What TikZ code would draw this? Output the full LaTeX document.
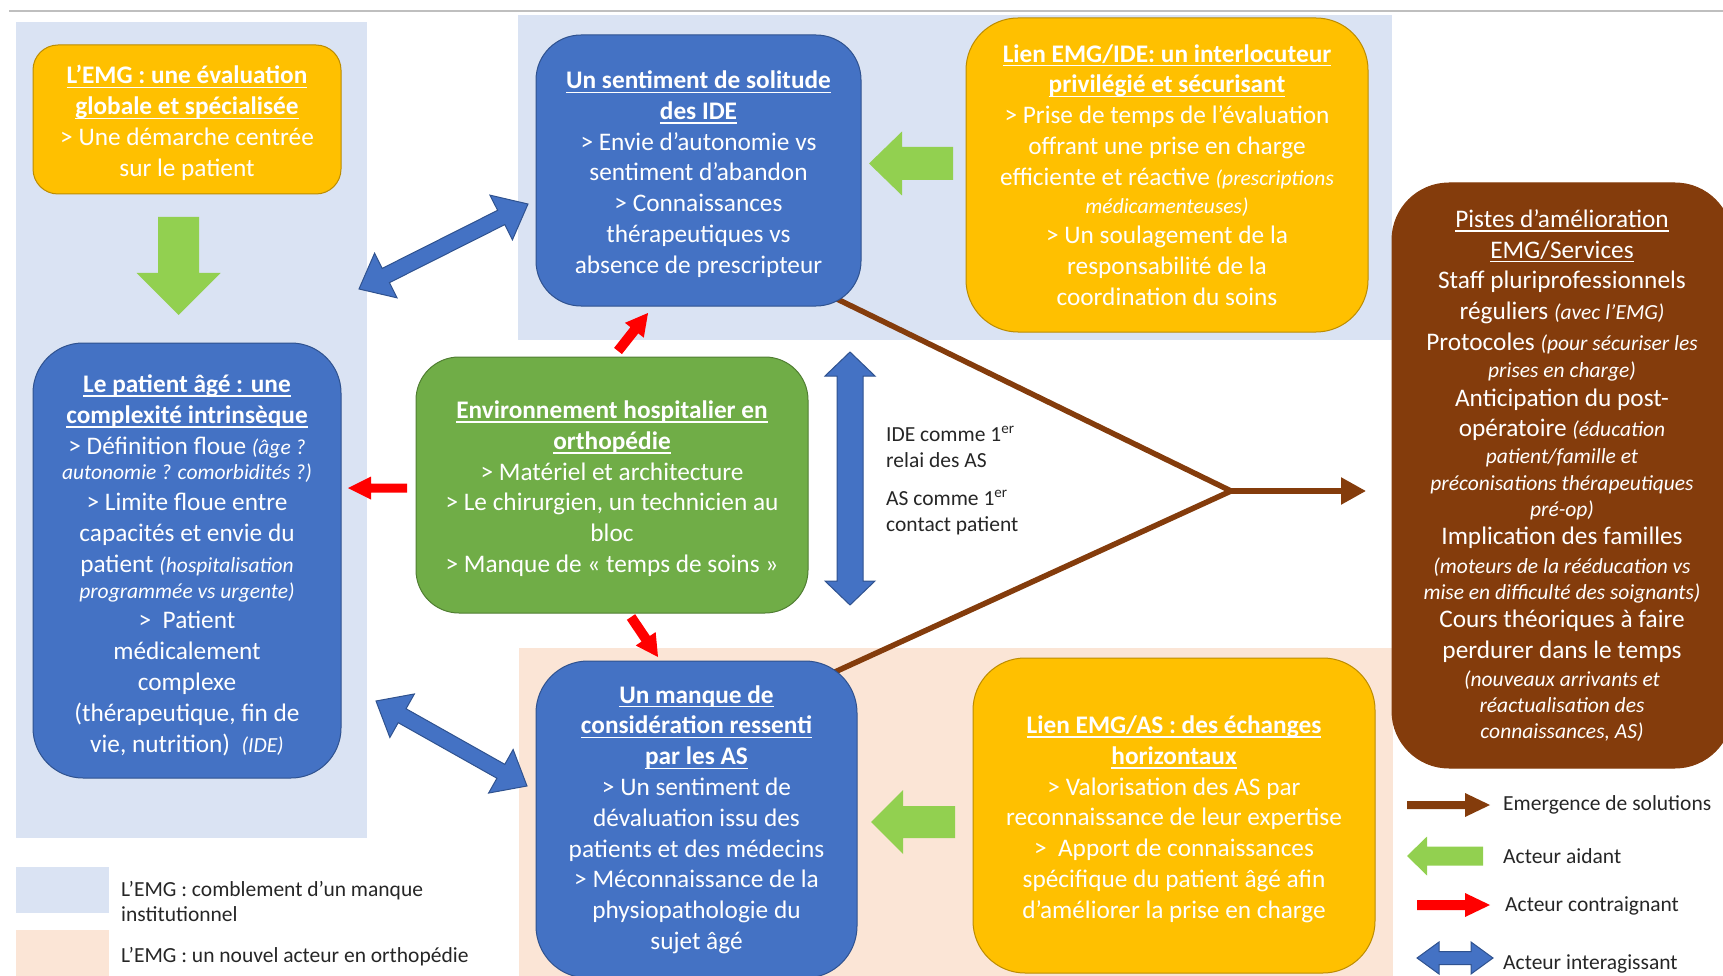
\documentclass[tikz,border=0pt]{standalone}
\usepackage{fontspec}
\setmainfont{Carlito}
\usetikzlibrary{calc,arrows.meta}
\pgfdeclarelayer{background}
\pgfsetlayers{background,main}
\definecolor{cblue}{HTML}{4472C4}
\definecolor{cblueb}{HTML}{2F528F}
\definecolor{cyel}{HTML}{FFC000}
\definecolor{cyelb}{HTML}{BC8C00}
\definecolor{cgreen}{HTML}{70AD47}
\definecolor{cgreenb}{HTML}{507E32}
\definecolor{cbrown}{HTML}{843C0C}
\definecolor{clgreen}{HTML}{92D050}
\definecolor{cpanelb}{HTML}{DAE3F3}
\definecolor{cpanelp}{HTML}{FBE5D6}
\definecolor{cred}{HTML}{FF0000}
\definecolor{ctext}{HTML}{262626}
\newcommand\szA{\fontsize{25.3pt}{30.8pt}\selectfont}
\newcommand\szB{\fontsize{21.5pt}{26pt}\selectfont}
\newcommand\itp[1]{{\szB\itshape #1}}
\newcommand\myul[1]{\leavevmode\setbox0\hbox{#1}\rlap{\rule[-4.4pt]{\wd0}{1.4pt}}\box0}
\newcommand\hd[1]{{\bfseries\myul{#1}}}
\newcommand\tstrut{\rule{0pt}{25pt}}
% single block arrow: style, tail, tip, shaft half width, head half width, head length
\newcommand\fatarrow[6]{%
  \coordinate (fah) at ($(#3)!#6!(#2)$);
  \path[#1] ($(#2)!#4!90:(#3)$) -- ($(fah)!#4!90:(#3)$) -- ($(fah)!#5!90:(#3)$) -- (#3)
    -- ($(fah)!#5!-90:(#3)$) -- ($(fah)!#4!-90:(#3)$) -- ($(#2)!#4!-90:(#3)$) -- cycle;
}
% double block arrow
\newcommand\fatdarrow[6]{%
  \coordinate (dha) at ($(#2)!#6!(#3)$);
  \coordinate (dhb) at ($(#3)!#6!(#2)$);
  \path[#1] (#2) -- ($(dha)!#5!90:(#3)$) -- ($(dha)!#4!90:(#3)$) -- ($(dhb)!#4!90:(#3)$)
    -- ($(dhb)!#5!90:(#3)$) -- (#3) -- ($(dhb)!#5!-90:(#3)$) -- ($(dhb)!#4!-90:(#3)$)
    -- ($(dha)!#4!-90:(#3)$) -- ($(dha)!#5!-90:(#3)$) -- cycle;
}
\tikzset{
  boxbase/.style={align=center, inner sep=0pt, text=white, font=\szA, line width=1pt},
  bluebox/.style={boxbase, fill=cblue, draw=cblueb},
  yelbox/.style={boxbase, fill=cyel, draw=cyelb},
  greenbox/.style={boxbase, fill=cgreen, draw=cgreenb},
  brownbox/.style={boxbase, fill=cbrown, draw=cbrown},
  panelb/.style={fill=cpanelb},
  panelp/.style={fill=cpanelp},
  garrow/.style={fill=clgreen},
  rarrow/.style={fill=cred},
  brarrow/.style={fill=cbrown},
  barrow/.style={fill=cblue, draw=cblueb, line width=1pt, line join=miter},
  brownline/.style={draw=cbrown, line width=5.5pt},
  legtext/.style={font=\szB, text=ctext, inner sep=0pt, align=left, anchor=west},
}
\begin{document}
\begin{tikzpicture}[x=1pt,y=-1pt]
\useasboundingbox (0,0) rectangle (1723,976);

% boxes
\node[yelbox, minimum width=308pt, minimum height=149pt, rounded corners=25pt] (emg) at (187,119.5)
  {\tstrut\hd{L’EMG : une évaluation}\\ \hd{globale et spécialisée}\\ > Une démarche centrée\\ sur le patient};

\node[bluebox, minimum width=308pt, minimum height=435pt, rounded corners=50pt] (pat) at (187,560.5)
  {\rule{0pt}{27pt}\hd{Le patient âgé : une}\\
   \hd{complexité intrinsèque}\\
   > Définition floue \itp{(âge ?}\\[-5pt]
   \itp{autonomie ? comorbidités ?)}\\
   > Limite floue entre\\
   capacités et envie du\\
   patient \itp{(hospitalisation}\\[-5pt]
   \itp{programmée vs urgente)}\\
   >~ Patient\\
   médicalement\\
   complexe\\
   (thérapeutique, fin de\\
   vie, nutrition)~ \itp{(IDE)}};

\node[greenbox, minimum width=392pt, minimum height=256pt, rounded corners=43pt] (env) at (612,485)
  {\tstrut\hd{Environnement hospitalier en}\\ \hd{orthopédie}\\ > Matériel et architecture\\
   > Le chirurgien, un technicien au\\ bloc\\ > Manque de « temps de soins »};

\node[bluebox, minimum width=325pt, minimum height=271pt, rounded corners=45pt] (sol) at (698.5,170.5)
  {\tstrut\hd{Un sentiment de solitude}\\ \hd{des IDE}\\ > Envie d’autonomie vs\\ sentiment d’abandon\\
   > Connaissances\\ thérapeutiques vs\\ absence de prescripteur};

\node[yelbox, minimum width=402pt, minimum height=314pt, rounded corners=52pt] (ide) at (1167,175)
  {\hd{Lien EMG/IDE: un interlocuteur}\\ \hd{privilégié et sécurisant}\\
   > Prise de temps de l’évaluation\\ offrant une prise en charge\\
   efficiente et réactive \itp{(prescriptions}\\[-3pt] \itp{médicamenteuses)}\\
   > Un soulagement de la\\ responsabilité de la\\ coordination du soins};

\node[bluebox, minimum width=321pt, minimum height=317pt, rounded corners=52pt] (man) at (696.5,819.5)
  {\hd{Un manque de}\\ \hd{considération ressenti}\\ \hd{par les AS}\\ > Un sentiment de\\
   dévaluation issu des\\ patients et des médecins\\ > Méconnaissance de la\\
   physiopathologie du\\ sujet âgé};

\node[yelbox, minimum width=402pt, minimum height=315pt, rounded corners=52pt] (as) at (1174,815.5)
  {\tstrut\hd{Lien EMG/AS : des échanges}\\ \hd{horizontaux}\\ > Valorisation des AS par\\
   reconnaissance de leur expertise\\ >~ Apport de connaissances\\
   spécifique du patient âgé afin\\ d’améliorer la prise en charge};

\node[brownbox, minimum width=340pt, minimum height=585pt, rounded corners=57pt] (pist) at (1562,475.5)
  {\myul{Pistes d’amélioration}\\
   \myul{EMG/Services}\\
   Staff pluriprofessionnels\\
   réguliers \itp{(avec l’EMG)}\\
   Protocoles \itp{(pour sécuriser les}\\[-4pt]
   \itp{prises en charge)}\\[-2pt]
   Anticipation du post-\\
   opératoire \itp{(éducation}\\[-4pt]
   \itp{patient/famille et}\\[-4pt]
   \itp{préconisations thérapeutiques}\\[-5pt]
   \itp{pré-op)}\\[-3pt]
   Implication des familles\\[-1pt]
   \itp{(moteurs de la rééducation vs}\\[-5pt]
   \itp{mise en difficulté des soignants)}\\[-3pt]
   Cours théoriques à faire\\
   perdurer dans le temps\\[-3pt]
   \itp{(nouveaux arrivants et}\\[-4pt]
   \itp{réactualisation des}\\[-5pt]
   \itp{connaissances, AS)}};

% background panels and brown connectors
\coordinate (jn) at (1231,491);
\coordinate (btip) at (1366,491);
\coordinate (b1) at (837,299);
\coordinate (b2) at (837,671);
\begin{pgfonlayer}{background}
  \draw[line width=1.2pt, color=black!25] (9,11) -- (1723,11);
  \path[panelb] (16,22) rectangle (367,838);
  \path[panelb] (518,15) rectangle (1392,340);
  \path[panelp] (519,648) rectangle (1393,980);
  \path[panelb] (16,867) rectangle (109,913);
  \path[panelp] (16,930) rectangle (109,980);
  \draw[brownline, line join=round] ($(jn)!1.15!(b1)$) -- (jn) -- ($(jn)!1.15!(b2)$);
\end{pgfonlayer}
\draw[brownline, -{Triangle[length=25pt,width=26pt]}] (jn) -- (btip);

% green arrows (acteur aidant)
\coordinate (gd1) at (178.5,217); \coordinate (gd2) at (178.5,315);
\fatarrow{garrow}{gd1}{gd2}{20.5pt}{42pt}{42pt}
\coordinate (gt1) at (953,163.5); \coordinate (gt2) at (869,163.5);
\fatarrow{garrow}{gt1}{gt2}{16.5pt}{32pt}{33pt}
\coordinate (gb1) at (955,822); \coordinate (gb2) at (871,822);
\fatarrow{garrow}{gb1}{gb2}{16pt}{32pt}{32pt}

% red arrows (acteur contraignant)
\coordinate (rl1) at (407,488); \coordinate (rl2) at (348,488);
\fatarrow{rarrow}{rl1}{rl2}{4.5pt}{11.5pt}{23pt}
\coordinate (ru1) at (618,351); \coordinate (ru2) at (648,313);
\fatarrow{rarrow}{ru1}{ru2}{5pt}{12pt}{22pt}
\coordinate (rd1) at (631,617); \coordinate (rd2) at (658,657);
\fatarrow{rarrow}{rd1}{rd2}{5pt}{12pt}{22pt}

% blue double arrows (acteur interagissant)
\coordinate (bt1) at (359,289); \coordinate (bt2) at (528,204);
\fatdarrow{barrow}{bt1}{bt2}{8pt}{25pt}{30pt}
\coordinate (bb1) at (376,701); \coordinate (bb2) at (527,786);
\fatdarrow{barrow}{bb1}{bb2}{8pt}{25pt}{30pt}
\coordinate (bv1) at (850,352); \coordinate (bv2) at (850,605);
\fatdarrow{barrow}{bv1}{bv2}{13pt}{25pt}{24pt}

% labels near vertical arrow
\node[legtext] (lab1) at (886,447) {IDE comme 1\textsuperscript{er}\\relai des AS};
\node[legtext] (lab2) at (886,512.5) {AS comme 1\textsuperscript{er}\\contact patient};

% legend right
\coordinate (lr1) at (1407,805); \coordinate (lr2) at (1490,805);
\fatarrow{brarrow}{lr1}{lr2}{4pt}{12pt}{25pt}
\node[legtext] (lt1) at (1503,805) {Emergence de solutions};
\coordinate (lg1) at (1483,856); \coordinate (lg2) at (1407,856);
\fatarrow{garrow}{lg1}{lg2}{9.5pt}{19.5pt}{20pt}
\node[legtext] (lt2) at (1503,856) {Acteur aidant};
\coordinate (lrr1) at (1417,905); \coordinate (lrr2) at (1490,905);
\fatarrow{rarrow}{lrr1}{lrr2}{5pt}{12pt}{25pt}
\node[legtext] (lt3) at (1505,906) {Acteur contraignant};
\coordinate (lb1) at (1417,958); \coordinate (lb2) at (1493,958);
\fatdarrow{barrow}{lb1}{lb2}{6.5pt}{16pt}{22pt}
\node[legtext] (lt4) at (1503,964) {Acteur interagissant};

% legend bottom left
\node[legtext, font=\fontsize{21.5pt}{25pt}\selectfont] (lt5) at (121,901) {L’EMG : comblement d’un manque\\institutionnel};
\node[legtext] (lt6) at (121,957) {L’EMG : un nouvel acteur en orthopédie};
\end{tikzpicture}
\end{document}
